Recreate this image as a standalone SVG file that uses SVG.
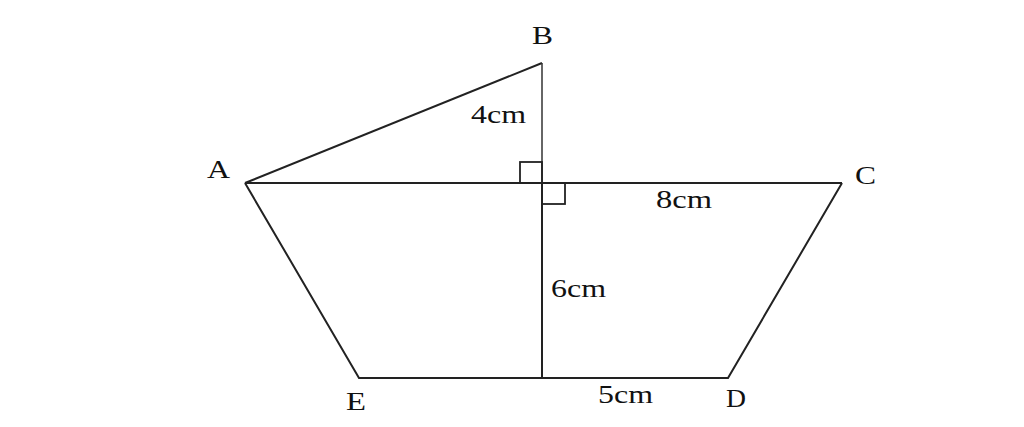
<svg xmlns="http://www.w3.org/2000/svg" width="1024" height="427" viewBox="0 0 1024 427">
<style>
.ln{fill:none;stroke:#222;stroke-width:2;stroke-linejoin:miter}
.thin{fill:none;stroke:#333;stroke-width:1.5}
.sq{fill:none;stroke:#222;stroke-width:1.8}
text{font-family:"Liberation Serif","Times New Roman",serif;font-size:26px;fill:#111}
</style>
<rect width="1024" height="427" fill="#fff"/>
<g id="connectors">
<path class="ln" d="M245,183 L542,63"/>
<path class="thin" d="M542,63 L542,183"/>
<path class="ln" d="M245,183 L842,183"/>
<path class="ln" d="M842,183 L728,378 L359,378 L245,183"/>
<path class="ln" d="M542,183 L542,378"/>
<rect class="sq" x="520" y="162" width="22" height="21"/>
<rect class="sq" x="542" y="183" width="23" height="21"/>
</g>
<g id="A"><text x="207" y="178" textLength="23" lengthAdjust="spacingAndGlyphs">A</text></g>
<g id="B"><text x="532" y="44" textLength="21" lengthAdjust="spacingAndGlyphs">B</text></g>
<g id="C"><text x="855" y="184" textLength="21" lengthAdjust="spacingAndGlyphs">C</text></g>
<g id="D"><text x="726" y="407" textLength="20" lengthAdjust="spacingAndGlyphs">D</text></g>
<g id="E"><text x="346" y="410" textLength="20" lengthAdjust="spacingAndGlyphs">E</text></g>
<g id="label-4cm"><text x="471" y="123" textLength="55" lengthAdjust="spacingAndGlyphs">4cm</text></g>
<g id="label-8cm"><text x="656" y="208" textLength="56" lengthAdjust="spacingAndGlyphs">8cm</text></g>
<g id="label-6cm"><text x="551" y="297" textLength="55" lengthAdjust="spacingAndGlyphs">6cm</text></g>
<g id="label-5cm"><text x="598" y="403" textLength="55" lengthAdjust="spacingAndGlyphs">5cm</text></g>
</svg>
